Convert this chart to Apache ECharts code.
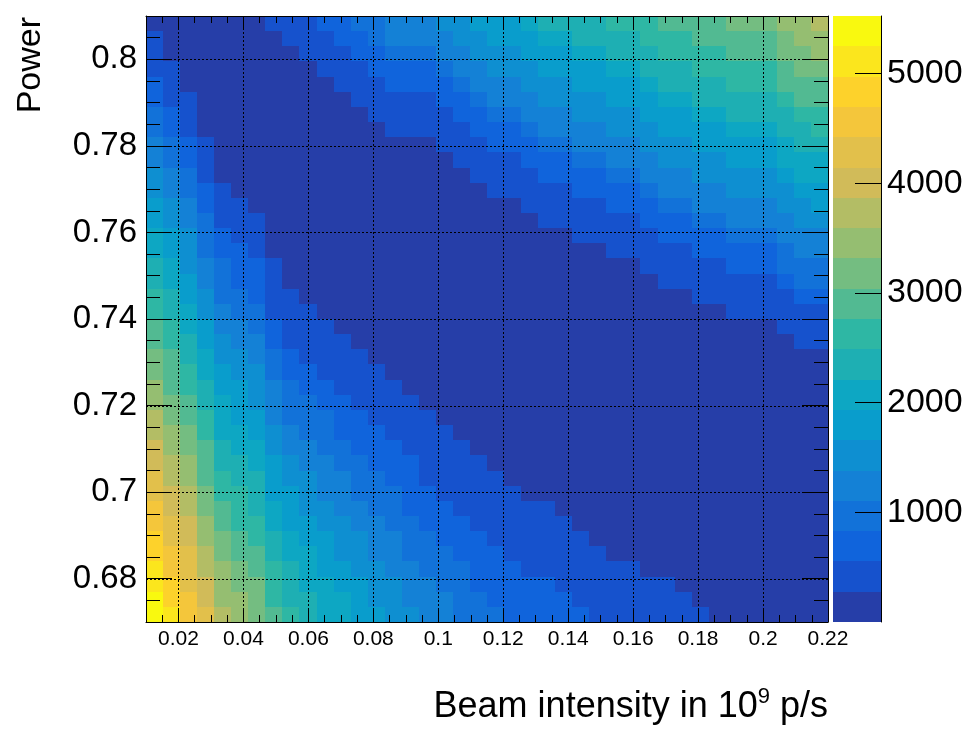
<!DOCTYPE html>
<html>
<head>
<meta charset="utf-8">
<script src="https://cdn.jsdelivr.net/npm/echarts@6.0.0/dist/echarts.min.js"></script>
<style>
  html, body { margin: 0; padding: 0; background: #ffffff; }
  #chart { width: 972px; height: 734px; }
</style>
</head>
<body>
<div id="chart"></div>
<script>
// ---- histogram binning -------------------------------------------------
const xRange = [0.01, 0.22];      // beam intensity, 10^9 p/s
const yRange = [0.67, 0.81];      // power
const nBinsX = 40;
const nBinsY = 40;
const zRange = [0, 5524];         // colour scale limits
const nContours = 20;             // number of colour levels

// Colour level of every bin (0 = lowest of the 20 levels).
// One row per power bin, from the top (0.81) down to the bottom (0.67);
// inside a row, intensity bins run from 0.01 to 0.22.
const levelRows = [
  [0,0,0,0,0,0,0,1,1,1,  2,2,3,3,4,4,4,5,5,6,  6,6,7,8,8,8,8,9,9,9,  10,10,10,10,11,11,11,12,12,13],
  [1,0,0,0,0,0,0,0,1,1,  1,2,2,3,4,4,4,4,5,5,  6,6,6,7,7,8,8,8,8,9,  9,9,10,10,10,10,10,11,12,12],
  [1,0,0,0,0,0,0,0,0,1,  1,1,2,2,3,3,3,4,4,5,  5,5,6,6,6,7,7,8,8,8,  9,9,9,9,10,10,10,11,11,12],
  [1,1,0,0,0,0,0,0,0,0,  1,1,1,2,2,2,2,3,4,4,  5,5,5,6,6,6,6,7,7,8,  8,8,9,9,9,9,9,10,11,11],
  [2,1,0,0,0,0,0,0,0,0,  0,1,1,1,2,2,2,2,3,4,  4,4,5,5,5,6,6,6,6,7,  8,8,8,8,9,9,9,10,10,10],
  [2,1,1,0,0,0,0,0,0,0,  0,0,1,1,1,1,1,2,2,3,  4,4,4,5,5,5,5,6,6,6,  7,7,8,8,8,8,8,9,10,10],
  [3,2,1,0,0,0,0,0,0,0,  0,0,0,1,1,1,1,1,2,2,  3,3,4,4,4,5,5,5,5,6,  6,6,7,7,8,8,8,8,9,9],
  [3,2,1,0,0,0,0,0,0,0,  0,0,0,0,1,1,1,1,1,2,  2,2,3,4,4,4,4,5,5,5,  6,6,6,6,7,7,7,8,8,9],
  [4,3,2,1,0,0,0,0,0,0,  0,0,0,0,0,0,0,1,1,1,  2,2,2,3,3,4,4,4,4,5,  5,5,6,6,6,6,6,7,8,8],
  [4,3,2,1,0,0,0,0,0,0,  0,0,0,0,0,0,0,0,1,1,  1,1,2,2,2,3,3,4,4,4,  5,5,5,5,6,6,6,7,7,7],
  [5,4,3,1,0,0,0,0,0,0,  0,0,0,0,0,0,0,0,0,1,  1,1,1,2,2,2,2,3,3,4,  4,4,5,5,5,5,5,6,7,7],
  [5,4,3,2,1,0,0,0,0,0,  0,0,0,0,0,0,0,0,0,0,  1,1,1,1,1,2,2,2,2,3,  4,4,4,4,5,5,5,5,6,6],
  [6,5,4,2,1,1,0,0,0,0,  0,0,0,0,0,0,0,0,0,0,  0,0,1,1,1,1,1,2,2,2,  3,3,4,4,4,4,4,5,5,6],
  [6,5,4,3,1,1,1,0,0,0,  0,0,0,0,0,0,0,0,0,0,  0,0,0,1,1,1,1,1,1,2,  2,2,3,3,4,4,4,4,5,5],
  [7,6,5,3,2,1,1,0,0,0,  0,0,0,0,0,0,0,0,0,0,  0,0,0,0,0,1,1,1,1,1,  2,2,2,2,3,3,3,4,4,4],
  [7,6,5,3,2,2,1,0,0,0,  0,0,0,0,0,0,0,0,0,0,  0,0,0,0,0,0,0,1,1,1,  1,1,2,2,2,2,2,3,4,4],
  [8,7,5,4,3,2,2,1,0,0,  0,0,0,0,0,0,0,0,0,0,  0,0,0,0,0,0,0,0,0,1,  1,1,1,1,2,2,2,3,3,3],
  [8,7,6,4,3,2,2,1,0,0,  0,0,0,0,0,0,0,0,0,0,  0,0,0,0,0,0,0,0,0,0,  1,1,1,1,1,1,1,2,3,3],
  [9,8,6,5,3,3,2,1,1,0,  0,0,0,0,0,0,0,0,0,0,  0,0,0,0,0,0,0,0,0,0,  0,0,1,1,1,1,1,1,2,2],
  [9,8,7,5,4,3,3,1,1,1,  0,0,0,0,0,0,0,0,0,0,  0,0,0,0,0,0,0,0,0,0,  0,0,0,0,1,1,1,1,1,1],
  [10,9,7,6,4,4,3,2,1,1,  1,0,0,0,0,0,0,0,0,0,  0,0,0,0,0,0,0,0,0,0,  0,0,0,0,0,0,0,1,1,1],
  [10,9,8,6,5,4,4,2,1,1,  1,1,0,0,0,0,0,0,0,0,  0,0,0,0,0,0,0,0,0,0,  0,0,0,0,0,0,0,0,1,1],
  [11,10,8,7,5,5,4,3,2,1,  1,1,1,0,0,0,0,0,0,0,  0,0,0,0,0,0,0,0,0,0,  0,0,0,0,0,0,0,0,0,0],
  [11,10,9,7,6,5,5,3,2,2,  1,1,1,1,0,0,0,0,0,0,  0,0,0,0,0,0,0,0,0,0,  0,0,0,0,0,0,0,0,0,0],
  [12,10,9,8,6,6,5,4,3,2,  2,1,1,1,1,0,0,0,0,0,  0,0,0,0,0,0,0,0,0,0,  0,0,0,0,0,0,0,0,0,0],
  [12,11,10,8,7,6,5,4,3,3,  2,2,1,1,1,1,0,0,0,0,  0,0,0,0,0,0,0,0,0,0,  0,0,0,0,0,0,0,0,0,0],
  [13,11,10,9,7,6,6,4,3,3,  3,2,2,1,1,1,1,0,0,0,  0,0,0,0,0,0,0,0,0,0,  0,0,0,0,0,0,0,0,0,0],
  [13,12,11,9,7,7,6,5,4,3,  3,2,2,2,1,1,1,1,0,0,  0,0,0,0,0,0,0,0,0,0,  0,0,0,0,0,0,0,0,0,0],
  [14,12,11,10,8,7,7,5,4,4,  3,3,2,2,2,1,1,1,1,0,  0,0,0,0,0,0,0,0,0,0,  0,0,0,0,0,0,0,0,0,0],
  [14,13,12,10,8,8,7,6,5,4,  4,3,3,2,2,2,1,1,1,1,  0,0,0,0,0,0,0,0,0,0,  0,0,0,0,0,0,0,0,0,0],
  [15,13,12,10,9,8,8,6,5,5,  4,4,3,3,2,2,1,1,1,1,  1,0,0,0,0,0,0,0,0,0,  0,0,0,0,0,0,0,0,0,0],
  [15,14,13,11,9,9,8,6,6,5,  4,4,3,3,3,2,2,1,1,1,  1,1,0,0,0,0,0,0,0,0,  0,0,0,0,0,0,0,0,0,0],
  [16,14,13,11,10,9,8,7,6,5,  5,4,4,3,3,2,2,2,1,1,  1,1,1,1,0,0,0,0,0,0,  0,0,0,0,0,0,0,0,0,0],
  [16,15,14,12,10,9,9,7,6,6,  5,5,4,4,3,3,2,2,2,1,  1,1,1,1,1,0,0,0,0,0,  0,0,0,0,0,0,0,0,0,0],
  [17,15,14,12,11,10,9,8,7,6,  6,5,5,4,4,3,3,2,2,2,  1,1,1,1,1,1,0,0,0,0,  0,0,0,0,0,0,0,0,0,0],
  [17,16,15,13,11,10,10,8,7,7,  6,5,5,4,4,3,3,3,2,2,  2,1,1,1,1,1,1,0,0,0,  0,0,0,0,0,0,0,0,0,0],
  [18,16,15,13,12,11,10,9,8,7,  6,6,5,5,4,4,3,3,3,2,  2,2,1,1,1,1,1,1,1,0,  0,0,0,0,0,0,0,0,0,0],
  [18,17,15,14,12,11,11,9,8,7,  7,6,6,5,5,4,4,3,3,2,  2,2,2,2,1,1,1,1,1,1,  1,0,0,0,0,0,0,0,0,0],
  [19,17,16,14,12,12,11,9,8,8,  7,7,6,5,5,4,4,4,3,3,  2,2,2,2,2,1,1,1,1,1,  1,1,0,0,0,0,0,0,0,0],
  [19,18,16,15,13,12,11,10,9,8,  7,7,6,6,5,5,4,4,3,3,  3,2,2,2,2,2,1,1,1,1,  1,1,1,0,0,0,0,0,0,0]
];

// ---- tick positions and labels -----------------------------------------
const xMajorTicks = [0.02, 0.04, 0.06, 0.08, 0.1, 0.12, 0.14, 0.16, 0.18, 0.2, 0.22];
const yMajorTicks = [0.68, 0.7, 0.72, 0.74, 0.76, 0.78, 0.8];
const zTicks = [1000, 2000, 3000, 4000, 5000];

const xTitle = '{m|Beam intensity in 10}{s|9}{m| p/s}';
const yTitle = 'Power';

// minor ticks every 0.005 between the labelled ones
const xMinorTicks = [];
for (let k = 3; k <= 43; k++) {
  const v = +(k * 0.005).toFixed(3);
  if (!xMajorTicks.includes(v)) xMinorTicks.push(v);
}
const yMinorTicks = [];
for (let k = 135; k <= 161; k++) {
  const v = +(k * 0.005).toFixed(3);
  if (!yMajorTicks.includes(v)) yMinorTicks.push(v);
}

// ---- "bird" colour palette, 255 shades, sampled once per level --------------
const birdStops = [0.0000, 0.1250, 0.2500, 0.3750, 0.5000, 0.6250, 0.7500, 0.8750, 1.0000];
const birdRed   = [0.2082, 0.0592, 0.0780, 0.0232, 0.1802, 0.5301, 0.8186, 0.9956, 0.9764];
const birdGreen = [0.1664, 0.3599, 0.5041, 0.6419, 0.7178, 0.7492, 0.7328, 0.7862, 0.9832];
const birdBlue  = [0.5293, 0.8684, 0.8385, 0.7914, 0.6425, 0.4662, 0.3499, 0.1968, 0.0539];

function gradientTable(n) {
  const table = [];
  for (let g = 1; g < birdStops.length; g++) {
    const k = Math.floor(n * birdStops[g]) - Math.floor(n * birdStops[g - 1]);
    for (let c = 0; c < k; c++) {
      const f = c / k;
      table.push([birdRed, birdGreen, birdBlue].map(ch =>
        Math.round(255 * (ch[g - 1] + f * (ch[g] - ch[g - 1])))));
    }
  }
  return table;
}
const shades = gradientTable(255);
const levelColors = [];
for (let i = 0; i < nContours; i++) {
  const idx = Math.min(shades.length - 1, Math.floor((i + 0.99) * shades.length / nContours));
  const [r, g, b] = shades[idx];
  levelColors.push('rgb(' + r + ',' + g + ',' + b + ')');
}

// ---- build bins -----------------------------------------------------------
const binW = (xRange[1] - xRange[0]) / nBinsX;
const binH = (yRange[1] - yRange[0]) / nBinsY;
const zStep = (zRange[1] - zRange[0]) / nContours;
const xEdge = c => xRange[0] + c * binW;
const yEdge = r => yRange[1] - r * binH;

const bins = [];
levelRows.forEach((row, r) => {
  row.forEach((level, c) => {
    bins.push([xEdge(c), xEdge(c + 1), yEdge(r + 1), yEdge(r), zRange[0] + (level + 0.5) * zStep]);
  });
});

const paletteBoxes = levelColors.map((_, i) => {
  const lo = zRange[0] + i * zStep;
  return [0, 1, lo, zRange[0] + (i + 1) * zStep, lo + zStep / 2];
});

// ---- drawing helpers ------------------------------------------------------
function renderBox(params, api) {
  const a = api.coord([api.value(0), api.value(3)]);
  const b = api.coord([api.value(1), api.value(2)]);
  const x = Math.round(a[0]), y = Math.round(a[1]);
  return {
    type: 'rect',
    shape: { x: x, y: y, width: Math.round(b[0]) - x, height: Math.round(b[1]) - y },
    style: { fill: api.visual('color') }
  };
}
const dotted = { stroke: '#000', lineWidth: 1, lineDash: [2, 2] };
function renderVGrid(params, api) {
  const a = api.coord([api.value(0), yRange[0]]);
  const b = api.coord([api.value(0), yRange[1]]);
  const x = Math.round(a[0]) + 0.5;
  return { type: 'line', shape: { x1: x, y1: a[1], x2: x, y2: b[1] }, style: dotted };
}
function renderHGrid(params, api) {
  const a = api.coord([xRange[0], api.value(1)]);
  const b = api.coord([xRange[1], api.value(1)]);
  const y = Math.round(a[1]) + 0.5;
  return { type: 'line', shape: { x1: a[0], y1: y, x2: b[0], y2: y }, style: dotted };
}

const fontFamily = '"Liberation Sans", Arial, Helvetica, sans-serif';
const black = { color: '#000', width: 1 };
const fmt = v => String(parseFloat(Number(v).toFixed(4)));

function xAxisDef(position, ticks, len, withLine, withLabels) {
  return {
    gridIndex: 0, type: 'value', position: position, z: 10,
    min: xRange[0], max: xRange[1],
    axisLine: { show: withLine, onZero: false, lineStyle: black },
    axisTick: { show: true, inside: true, length: len, customValues: ticks, lineStyle: black },
    axisLabel: withLabels
      ? { show: true, customValues: ticks, formatter: fmt, color: '#000', fontSize: 21, fontFamily: fontFamily, margin: 7 }
      : { show: false },
    splitLine: { show: false }, minorTick: { show: false }
  };
}
function yAxisDef(position, ticks, len, withLine, withLabels) {
  return {
    gridIndex: 0, type: 'value', position: position, z: 10,
    min: yRange[0], max: yRange[1],
    axisLine: { show: withLine, onZero: false, lineStyle: black },
    axisTick: { show: true, inside: true, length: len, customValues: ticks, lineStyle: black },
    axisLabel: withLabels
      ? { show: true, customValues: ticks, formatter: fmt, color: '#000', fontSize: 33, fontFamily: fontFamily, margin: 9 }
      : { show: false },
    splitLine: { show: false }, minorTick: { show: false }
  };
}

const chart = echarts.init(document.getElementById('chart'), null, { renderer: 'canvas' });
chart.setOption({
  animation: false,
  backgroundColor: '#ffffff',
  grid: [
    { left: 146, top: 16, width: 682, height: 606, containLabel: false, outerBoundsMode: 'none' },
    { left: 833, top: 16, width: 48, height: 606, containLabel: false, outerBoundsMode: 'none' }
  ],
  xAxis: [
    xAxisDef('bottom', xMajorTicks, 13, true, true),
    xAxisDef('top', xMajorTicks, 13, true, false),
    xAxisDef('bottom', xMinorTicks, 7, false, false),
    xAxisDef('top', xMinorTicks, 7, false, false),
    { gridIndex: 1, type: 'value', min: 0, max: 1, show: false }
  ],
  yAxis: [
    yAxisDef('left', yMajorTicks, 26, true, true),
    yAxisDef('right', yMajorTicks, 26, true, false),
    yAxisDef('left', yMinorTicks, 14, false, false),
    yAxisDef('right', yMinorTicks, 14, false, false),
    {
      gridIndex: 1, type: 'value', position: 'right', z: 10,
      min: zRange[0], max: zRange[1],
      axisLine: { show: true, onZero: false, lineStyle: black },
      axisTick: { show: true, inside: true, length: 26, customValues: zTicks, lineStyle: black },
      axisLabel: { show: true, customValues: zTicks, formatter: v => String(v), color: '#000', fontSize: 34, fontFamily: fontFamily, margin: 6 },
      splitLine: { show: false }
    }
  ],
  visualMap: {
    type: 'piecewise', show: false, dimension: 4, seriesIndex: [0, 3],
    pieces: levelColors.map((color, i) => ({
      gte: zRange[0] + i * zStep, lt: zRange[0] + (i + 1) * zStep, color: color
    }))
  },
  series: [
    {
      type: 'custom', name: 'bins', xAxisIndex: 0, yAxisIndex: 0, z: 2,
      renderItem: renderBox, encode: { x: [0, 1], y: [2, 3] }, data: bins, silent: true
    },
    {
      type: 'custom', name: 'xgrid', xAxisIndex: 0, yAxisIndex: 0, z: 3,
      renderItem: renderVGrid, silent: true,
      data: xMajorTicks.filter(v => v < xRange[1]).map(v => [v, yRange[0]])
    },
    {
      type: 'custom', name: 'ygrid', xAxisIndex: 0, yAxisIndex: 0, z: 3,
      renderItem: renderHGrid, silent: true,
      data: yMajorTicks.map(v => [xRange[0], v])
    },
    {
      type: 'custom', name: 'palette', xAxisIndex: 4, yAxisIndex: 4, z: 2,
      renderItem: renderBox, encode: { x: [0, 1], y: [2, 3] }, data: paletteBoxes, silent: true
    }
  ],
  graphic: [
    {
      type: 'text', x: 31, y: 17, rotation: Math.PI / 2, z: 20,
      style: {
        text: yTitle, fill: '#000', fontSize: 34, fontFamily: fontFamily,
        align: 'right', verticalAlign: 'middle', textAlign: 'right', textVerticalAlign: 'middle'
      }
    },
    {
      type: 'text', x: 828, y: 686, z: 20,
      style: {
        text: xTitle, fill: '#000', fontFamily: fontFamily,
        align: 'right', verticalAlign: 'top', textAlign: 'right', textVerticalAlign: 'top',
        rich: {
          m: { fontSize: 36, fontFamily: fontFamily, fill: '#000' },
          s: { fontSize: 22, fontFamily: fontFamily, fill: '#000', padding: [0, 0, 20, 0] }
        }
      }
    }
  ]
});
</script>
</body>
</html>
